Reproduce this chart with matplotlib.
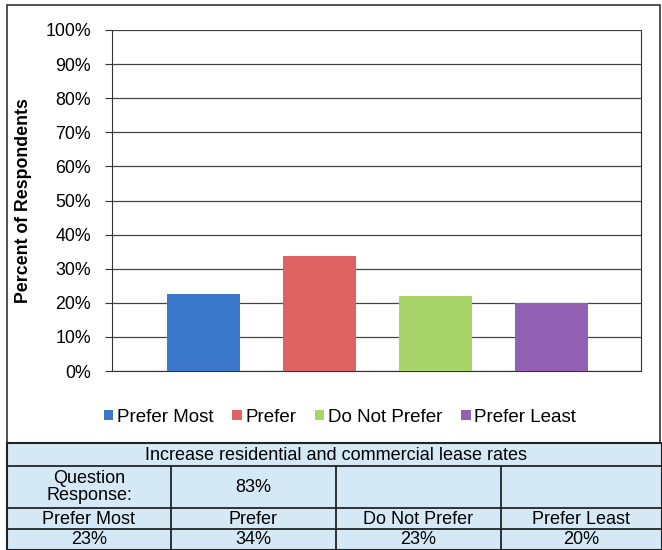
import matplotlib.pyplot as plt
from matplotlib.patches import Rectangle

plt.rcParams['font.family'] = ['Liberation Sans', 'DejaVu Sans']

# data
categories = ["Prefer Most", "Prefer", "Do Not Prefer", "Prefer Least"]
shares = [0.227, 0.337, 0.221, 0.198]
table_pcts = ["23%", "34%", "23%", "20%"]
question = "Increase residential and commercial lease rates"
response_rate = "83%"
colors = ["#3b78c9", "#e06363", "#a9d46a", "#9361b3"]
yticks = [i / 10 for i in range(11)]

fig = plt.figure(figsize=(6.62, 5.5), dpi=100)
W, H = 662, 550

def fx(px):
    return px / W

def fy(py):
    return 1 - py / H

# outer chart frame
fig.patches.append(Rectangle((fx(7), fy(443)), fx(660) - fx(7), fy(5) - fy(443),
                             transform=fig.transFigure, fill=False,
                             edgecolor="#333333", linewidth=1.2))

ax = fig.add_axes([fx(112), fy(371), fx(641) - fx(112), fy(30) - fy(371)])
xs = list(range(len(categories)))
bars = ax.bar(xs, shares, width=0.63, color=colors, zorder=3)
ax.set_xlim(-0.785, 3.775)
ax.set_ylim(0, 1)
ax.set_yticks(yticks)
ax.set_yticklabels([f"{int(round(t * 100))}%" for t in yticks], fontsize=12.8)
ax.set_xticks([])
ax.yaxis.grid(True, color="#444444", linewidth=0.9, zorder=0)
ax.tick_params(axis="y", length=5, color="#333333", pad=10)
for s in ax.spines.values():
    s.set_color("#333333")
ax.spines["top"].set_visible(False)
ax.set_ylabel("Percent of Respondents", fontsize=12.8, fontweight="bold", labelpad=10)

fig.legend(handles=bars, labels=categories, loc="center",
           bbox_to_anchor=(fx(340), fy(417)), ncol=4, frameon=False,
           fontsize=13.5, handlelength=0.5, handleheight=0.5,
           handletextpad=0.2, columnspacing=1.0)

# table under the chart
tab_bg = "#d5e8f5"
line = "#222222"
col_x = [7, 171, 336, 501, 662]
row_y = [443, 466, 508, 529, 550]
fig.patches.append(Rectangle((fx(7), fy(550)), fx(662) - fx(7), fy(443) - fy(550),
                             transform=fig.transFigure, facecolor=tab_bg,
                             edgecolor=line, linewidth=1.5))
for y in row_y[1:-1]:
    fig.add_artist(plt.Line2D([fx(7), fx(662)], [fy(y), fy(y)], color=line, linewidth=1.3))
for x in col_x[1:-1]:
    fig.add_artist(plt.Line2D([fx(x), fx(x)], [fy(466), fy(550)], color=line, linewidth=1.3))

fs = 13
fig.text(fx(336), fy(455), question, ha="center", va="center", fontsize=fs)
fig.text(fx(89), fy(487), "Question\nResponse:", ha="center", va="center",
         fontsize=fs, linespacing=1.05)
fig.text(fx(253), fy(487), response_rate, ha="center", va="center", fontsize=fs)
for i in range(4):
    cx = (col_x[i] + col_x[i + 1]) / 2
    fig.text(fx(cx), fy(519), categories[i], ha="center", va="center", fontsize=fs)
    fig.text(fx(cx), fy(540), table_pcts[i], ha="center", va="center", fontsize=fs)

fig.savefig("out.png", dpi=100)
